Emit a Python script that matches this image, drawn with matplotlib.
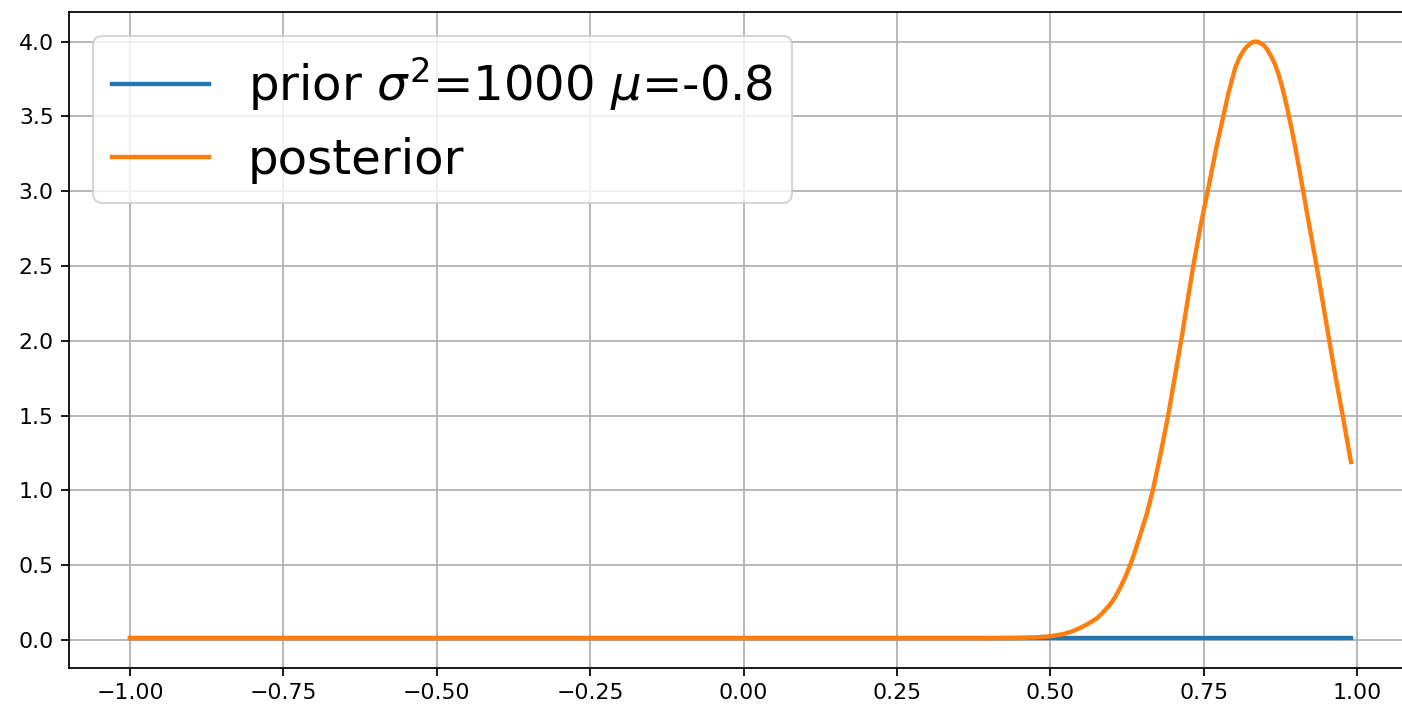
import matplotlib
matplotlib.use("Agg")
import matplotlib.pyplot as plt

# Prior: wide normal, essentially flat on [-1, 1]
prior_x = [-1.00, 0.99]
prior_y = [0.0126, 0.0126]

# Posterior, values
post_x = [-1.00, 0.40, 0.45, 0.48, 0.503, 0.521, 0.535, 0.548, 0.560, 0.576,
          0.587, 0.597, 0.606, 0.614, 0.622, 0.630, 0.637, 0.644, 0.657, 0.667,
          0.680, 0.692, 0.703, 0.714, 0.723, 0.733, 0.745, 0.758, 0.771, 0.782,
          0.790, 0.801, 0.808, 0.815, 0.820, 0.829, 0.834, 0.839, 0.848, 0.853,
          0.860, 0.866, 0.872, 0.877, 0.883, 0.888, 0.899, 0.910, 0.922, 0.934,
          0.944, 0.953, 0.964, 0.977, 0.990]
post_y = [0.012, 0.012, 0.014, 0.019, 0.027, 0.040, 0.057, 0.080, 0.105, 0.145,
          0.190, 0.235, 0.290, 0.350, 0.420, 0.500, 0.580, 0.670, 0.840, 1.000,
          1.250, 1.500, 1.760, 2.020, 2.250, 2.500, 2.770, 3.030, 3.300, 3.500,
          3.650, 3.820, 3.890, 3.940, 3.965, 3.995, 4.000, 3.997, 3.975, 3.950,
          3.900, 3.850, 3.780, 3.710, 3.610, 3.520, 3.300, 3.050, 2.770, 2.500,
          2.260, 2.040, 1.780, 1.490, 1.190]

prior_label = r"prior $\sigma^2$=1000 $\mu$=-0.8"

dpi = 158
fig = plt.figure(figsize=(1402 / dpi, 707 / dpi), dpi=dpi)
ax = fig.add_axes([69 / 1402, 38.9 / 707, 1343 / 1402, 656.4 / 707])

ax.plot(prior_x, prior_y, linewidth=2, label=prior_label)
ax.plot(post_x, post_y, linewidth=2, label="posterior")
ax.grid(True)
ax.spines["right"].set_visible(False)
ax.legend(fontsize=22, loc="upper left")

fig.savefig("out.png", dpi=dpi)
